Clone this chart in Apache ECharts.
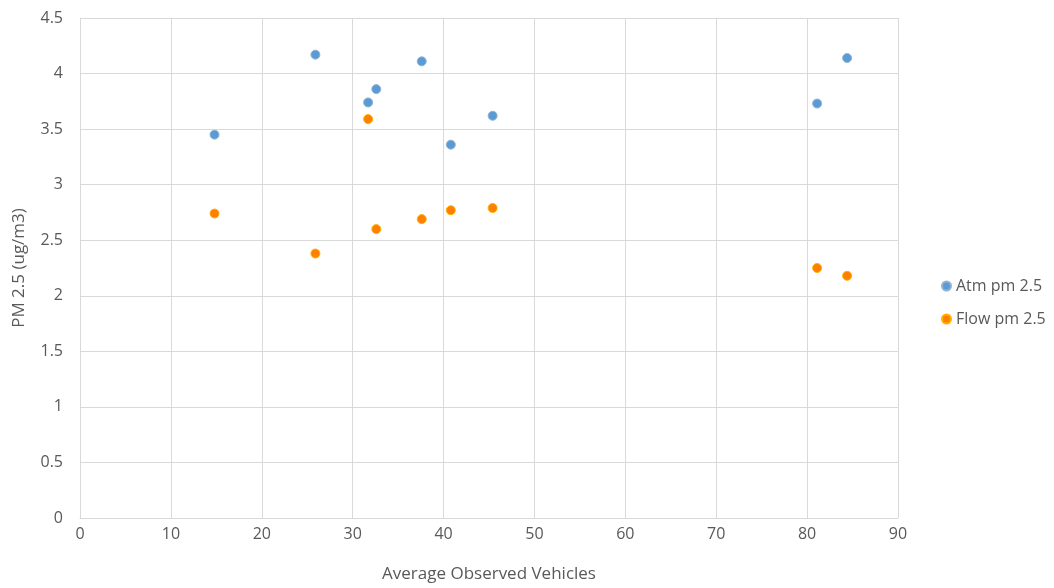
<!DOCTYPE html>
<html>
<head>
<meta charset="utf-8">
<script src="https://cdn.jsdelivr.net/npm/echarts@6/dist/echarts.min.js"></script>
<style>html,body{margin:0;padding:0;background:#fff}#c{width:1054px;height:588px}</style>
</head>
<body>
<div id="c"></div>
<script>
var atmX = [14.8, 25.9, 31.7, 32.6, 37.6, 40.8, 45.4, 81.1, 84.4];
var atmY = [3.45, 4.17, 3.74, 3.86, 4.11, 3.36, 3.62, 3.73, 4.14];
var flowX = [14.8, 25.9, 31.7, 32.6, 37.6, 40.8, 45.4, 81.1, 84.4];
var flowY = [2.74, 2.38, 3.59, 2.60, 2.69, 2.77, 2.79, 2.25, 2.18];
var seriesNames = ['Atm pm 2.5', 'Flow pm 2.5'];
var xTitle = 'Average Observed Vehicles';
var yTitle = 'PM 2.5 (ug/m3)';

function pairs(xs, ys){ return xs.map(function(x,i){ return [x, ys[i]]; }); }

var chart = echarts.init(document.getElementById('c'));
var font = 'Open Sans, Liberation Sans, sans-serif';
chart.setOption({
  animation: false,
  textStyle: {fontFamily: font},
  grid: {left: 80, right: 156, top: 18, bottom: 70, containLabel: false},
  legend: {
    orient: 'vertical', left: 936, top: 273, itemGap: 17, itemTextGap: 6,
    icon: 'circle', itemWidth: 9, itemHeight: 9,
    textStyle: {color: '#595959', fontSize: 16, fontFamily: font},
    data: seriesNames
  },
  xAxis: {
    type: 'value', min: 0, max: 90, interval: 10,
    name: xTitle, nameLocation: 'middle', nameGap: 48,
    nameTextStyle: {color: '#595959', fontSize: 17},
    axisLine: {show: true, lineStyle: {color: '#d9d9d9', width: 1}},
    axisTick: {show: false},
    axisLabel: {color: '#595959', fontSize: 16, margin: 8},
    splitLine: {show: true, lineStyle: {color: '#d9d9d9', width: 1}}
  },
  yAxis: {
    type: 'value', min: 0, max: 4.5, interval: 0.5,
    name: yTitle, nameLocation: 'middle', nameGap: 52,
    nameTextStyle: {color: '#595959', fontSize: 17},
    axisLine: {show: true, lineStyle: {color: '#d9d9d9', width: 1}},
    axisTick: {show: false},
    axisLabel: {color: '#595959', fontSize: 16, margin: 17},
    splitLine: {show: true, lineStyle: {color: '#d9d9d9', width: 1}}
  },
  series: [
    {name: seriesNames[0], type: 'scatter', symbolSize: 9,
     itemStyle: {color: '#5B9BD5', borderColor: '#8fb3d0', borderWidth: 1, opacity: 1},
     data: pairs(atmX, atmY)},
    {name: seriesNames[1], type: 'scatter', symbolSize: 9,
     itemStyle: {color: '#FF7F00', borderColor: '#FFB000', borderWidth: 1, opacity: 1},
     data: pairs(flowX, flowY)}
  ]
});
</script>
</body>
</html>
